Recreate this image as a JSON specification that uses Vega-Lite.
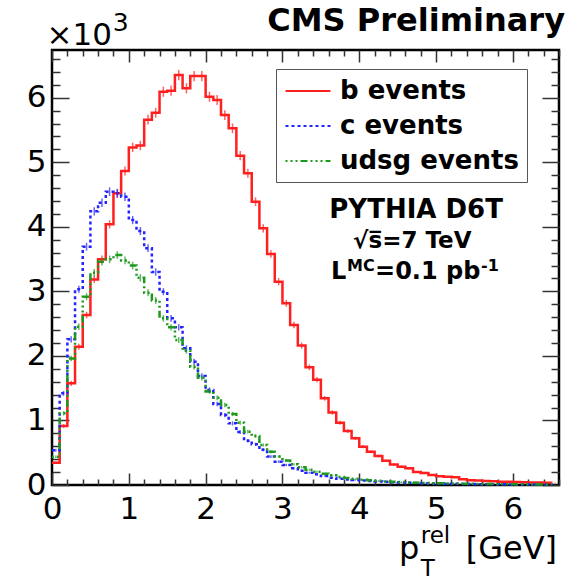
{
  "$schema": "https://vega.github.io/schema/vega-lite/v6.json",
  "width": 507,
  "height": 435,
  "autosize": {"type": "none"},
  "padding": {"left": 52, "top": 50, "right": 15, "bottom": 96},
  "background": "white",
  "config": {"view": {"stroke": "black", "strokeWidth": 2.5}, "font": "DejaVu Sans"},
  "datasets": {
    "hist": [
      {"x":0,"f":"b events","n":345},{"x":0.1,"f":"b events","n":914},{"x":0.2,"f":"b events","n":1575},{"x":0.3,"f":"b events","n":2143},{"x":0.4,"f":"b events","n":2634},{"x":0.5,"f":"b events","n":3186},{"x":0.6,"f":"b events","n":3496},{"x":0.7,"f":"b events","n":4039},{"x":0.8,"f":"b events","n":4519},{"x":0.9,"f":"b events","n":4864},
      {"x":1,"f":"b events","n":5231},{"x":1.1,"f":"b events","n":5260},{"x":1.2,"f":"b events","n":5660},{"x":1.3,"f":"b events","n":5768},{"x":1.4,"f":"b events","n":6093},{"x":1.5,"f":"b events","n":6110},{"x":1.6,"f":"b events","n":6352},{"x":1.7,"f":"b events","n":6146},{"x":1.8,"f":"b events","n":6336},{"x":1.9,"f":"b events","n":6336},
      {"x":2,"f":"b events","n":6016},{"x":2.1,"f":"b events","n":5964},{"x":2.2,"f":"b events","n":5732},{"x":2.3,"f":"b events","n":5526},{"x":2.4,"f":"b events","n":5102},{"x":2.5,"f":"b events","n":4829},{"x":2.6,"f":"b events","n":4390},{"x":2.7,"f":"b events","n":3977},{"x":2.8,"f":"b events","n":3579},{"x":2.9,"f":"b events","n":3150},
      {"x":3,"f":"b events","n":2815},{"x":3.1,"f":"b events","n":2479},{"x":3.2,"f":"b events","n":2160},{"x":3.3,"f":"b events","n":1823},{"x":3.4,"f":"b events","n":1632},{"x":3.5,"f":"b events","n":1343},{"x":3.6,"f":"b events","n":1125},{"x":3.7,"f":"b events","n":965},{"x":3.8,"f":"b events","n":835},{"x":3.9,"f":"b events","n":723},
      {"x":4,"f":"b events","n":594},{"x":4.1,"f":"b events","n":516},{"x":4.2,"f":"b events","n":450},{"x":4.3,"f":"b events","n":375},{"x":4.4,"f":"b events","n":318},{"x":4.5,"f":"b events","n":284},{"x":4.6,"f":"b events","n":258},{"x":4.7,"f":"b events","n":200},{"x":4.8,"f":"b events","n":185},{"x":4.9,"f":"b events","n":155},
      {"x":5,"f":"b events","n":135},{"x":5.1,"f":"b events","n":128},{"x":5.2,"f":"b events","n":122},{"x":5.3,"f":"b events","n":90},{"x":5.4,"f":"b events","n":75},{"x":5.5,"f":"b events","n":70},{"x":5.6,"f":"b events","n":62},{"x":5.7,"f":"b events","n":58},{"x":5.8,"f":"b events","n":52},{"x":5.9,"f":"b events","n":50},
      {"x":6,"f":"b events","n":46},{"x":6.1,"f":"b events","n":44},{"x":6.2,"f":"b events","n":40},{"x":6.3,"f":"b events","n":38},{"x":6.4,"f":"b events","n":36},{"x":6.5,"f":"b events","n":34},

      {"x":0,"f":"c events","n":540},{"x":0.1,"f":"c events","n":1420},{"x":0.2,"f":"c events","n":2257},{"x":0.3,"f":"c events","n":3032},{"x":0.4,"f":"c events","n":3692},{"x":0.5,"f":"c events","n":4240},{"x":0.6,"f":"c events","n":4373},{"x":0.7,"f":"c events","n":4544},{"x":0.8,"f":"c events","n":4519},{"x":0.9,"f":"c events","n":4466},
      {"x":1,"f":"c events","n":4105},{"x":1.1,"f":"c events","n":3935},{"x":1.2,"f":"c events","n":3670},{"x":1.3,"f":"c events","n":3300},{"x":1.4,"f":"c events","n":2995},{"x":1.5,"f":"c events","n":2582},{"x":1.6,"f":"c events","n":2443},{"x":1.7,"f":"c events","n":2118},{"x":1.8,"f":"c events","n":1911},{"x":1.9,"f":"c events","n":1689},
      {"x":2,"f":"c events","n":1472},{"x":2.1,"f":"c events","n":1255},{"x":2.2,"f":"c events","n":1084},{"x":2.3,"f":"c events","n":955},{"x":2.4,"f":"c events","n":820},{"x":2.5,"f":"c events","n":686},{"x":2.6,"f":"c events","n":630},{"x":2.7,"f":"c events","n":545},{"x":2.8,"f":"c events","n":440},{"x":2.9,"f":"c events","n":361},
      {"x":3,"f":"c events","n":310},{"x":3.1,"f":"c events","n":258},{"x":3.2,"f":"c events","n":222},{"x":3.3,"f":"c events","n":191},{"x":3.4,"f":"c events","n":165},{"x":3.5,"f":"c events","n":139},{"x":3.6,"f":"c events","n":114},{"x":3.7,"f":"c events","n":98},{"x":3.8,"f":"c events","n":86},{"x":3.9,"f":"c events","n":77},
      {"x":4,"f":"c events","n":70},{"x":4.1,"f":"c events","n":62},{"x":4.2,"f":"c events","n":55},{"x":4.3,"f":"c events","n":49},{"x":4.4,"f":"c events","n":44},{"x":4.5,"f":"c events","n":40},{"x":4.6,"f":"c events","n":35},{"x":4.7,"f":"c events","n":31},{"x":4.8,"f":"c events","n":28},{"x":4.9,"f":"c events","n":25},
      {"x":5,"f":"c events","n":22},{"x":5.1,"f":"c events","n":20},{"x":5.2,"f":"c events","n":18},{"x":5.3,"f":"c events","n":16},{"x":5.4,"f":"c events","n":15},{"x":5.5,"f":"c events","n":13},{"x":5.6,"f":"c events","n":12},{"x":5.7,"f":"c events","n":11},{"x":5.8,"f":"c events","n":10},{"x":5.9,"f":"c events","n":9},
      {"x":6,"f":"c events","n":8},{"x":6.1,"f":"c events","n":8},{"x":6.2,"f":"c events","n":7},{"x":6.3,"f":"c events","n":6},{"x":6.4,"f":"c events","n":6},{"x":6.5,"f":"c events","n":5},

      {"x":0,"f":"udsg events","n":438},{"x":0.1,"f":"udsg events","n":1111},{"x":0.2,"f":"udsg events","n":1960},{"x":0.3,"f":"udsg events","n":2453},{"x":0.4,"f":"udsg events","n":2917},{"x":0.5,"f":"udsg events","n":3289},{"x":0.6,"f":"udsg events","n":3460},{"x":0.7,"f":"udsg events","n":3496},{"x":0.8,"f":"udsg events","n":3563},{"x":0.9,"f":"udsg events","n":3480},
      {"x":1,"f":"udsg events","n":3400},{"x":1.1,"f":"udsg events","n":3210},{"x":1.2,"f":"udsg events","n":2980},{"x":1.3,"f":"udsg events","n":2860},{"x":1.4,"f":"udsg events","n":2582},{"x":1.5,"f":"udsg events","n":2443},{"x":1.6,"f":"udsg events","n":2246},{"x":1.7,"f":"udsg events","n":2080},{"x":1.8,"f":"udsg events","n":1833},{"x":1.9,"f":"udsg events","n":1660},
      {"x":2,"f":"udsg events","n":1450},{"x":2.1,"f":"udsg events","n":1350},{"x":2.2,"f":"udsg events","n":1239},{"x":2.3,"f":"udsg events","n":1100},{"x":2.4,"f":"udsg events","n":965},{"x":2.5,"f":"udsg events","n":826},{"x":2.6,"f":"udsg events","n":759},{"x":2.7,"f":"udsg events","n":620},{"x":2.8,"f":"udsg events","n":516},{"x":2.9,"f":"udsg events","n":440},
      {"x":3,"f":"udsg events","n":380},{"x":3.1,"f":"udsg events","n":320},{"x":3.2,"f":"udsg events","n":275},{"x":3.3,"f":"udsg events","n":235},{"x":3.4,"f":"udsg events","n":205},{"x":3.5,"f":"udsg events","n":175},{"x":3.6,"f":"udsg events","n":150},{"x":3.7,"f":"udsg events","n":125},{"x":3.8,"f":"udsg events","n":110},{"x":3.9,"f":"udsg events","n":95},
      {"x":4,"f":"udsg events","n":82},{"x":4.1,"f":"udsg events","n":72},{"x":4.2,"f":"udsg events","n":64},{"x":4.3,"f":"udsg events","n":56},{"x":4.4,"f":"udsg events","n":50},{"x":4.5,"f":"udsg events","n":45},{"x":4.6,"f":"udsg events","n":40},{"x":4.7,"f":"udsg events","n":36},{"x":4.8,"f":"udsg events","n":32},{"x":4.9,"f":"udsg events","n":29},
      {"x":5,"f":"udsg events","n":26},{"x":5.1,"f":"udsg events","n":24},{"x":5.2,"f":"udsg events","n":22},{"x":5.3,"f":"udsg events","n":20},{"x":5.4,"f":"udsg events","n":18},{"x":5.5,"f":"udsg events","n":16},{"x":5.6,"f":"udsg events","n":15},{"x":5.7,"f":"udsg events","n":14},{"x":5.8,"f":"udsg events","n":12},{"x":5.9,"f":"udsg events","n":11},
      {"x":6,"f":"udsg events","n":10},{"x":6.1,"f":"udsg events","n":10},{"x":6.2,"f":"udsg events","n":9},{"x":6.3,"f":"udsg events","n":8},{"x":6.4,"f":"udsg events","n":8},{"x":6.5,"f":"udsg events","n":7}
    ]
  },
  "layer": [
    {
      "data": {"name": "hist"},
      "mark": {"type": "line", "interpolate": "step-after", "strokeWidth": 2.5},
      "encoding": {
        "x": {
          "field": "x", "type": "quantitative",
          "scale": {"domain": [0, 6.6], "nice": false, "zero": false},
          "axis": {
            "orient": "bottom", "title": null, "domain": false, "grid": false,
            "values": [0,0.2,0.4,0.6,0.8,1,1.2,1.4,1.6,1.8,2,2.2,2.4,2.6,2.8,3,3.2,3.4,3.6,3.8,4,4.2,4.4,4.6,4.8,5,5.2,5.4,5.6,5.8,6,6.2,6.4,6.6],
            "labelExpr": "datum.value % 1 === 0 ? format(datum.value, 'd') : ''",
            "labelFont": "DejaVu Sans", "labelFontSize": 31, "labelColor": "black",
            "labelFlush": false, "labelOverlap": false, "labelBaseline": "top",
            "labelPadding": 21,
            "tickColor": "#333", "tickWidth": 1.5,
            "tickSize": {"condition": {"test": "datum.value % 1 === 0", "value": -12}, "value": -6}
          }
        },
        "y": {
          "field": "n", "type": "quantitative",
          "scale": {"domain": [0, 6740], "nice": false},
          "axis": {
            "orient": "left", "title": null, "domain": false, "grid": false,
            "values": [0,200,400,600,800,1000,1200,1400,1600,1800,2000,2200,2400,2600,2800,3000,3200,3400,3600,3800,4000,4200,4400,4600,4800,5000,5200,5400,5600,5800,6000,6200,6400,6600],
            "labelExpr": "datum.value % 1000 === 0 ? format(datum.value / 1000, 'd') : ''",
            "labelFont": "DejaVu Sans", "labelFontSize": 31, "labelColor": "black",
            "labelFlush": false, "labelOverlap": false,
            "labelPadding": 23,
            "tickColor": "#333", "tickWidth": 1.5,
            "tickSize": {"condition": {"test": "datum.value % 1000 === 0", "value": -17}, "value": -8}
          }
        },
        "color": {
          "field": "f", "type": "nominal",
          "scale": {"domain": ["b events", "c events", "udsg events"], "range": ["#ff1f1f", "#2323ff", "#1d9a1d"]},
          "legend": {
            "title": null, "orient": "none", "legendX": 224, "legendY": 19,
            "fillColor": "white", "strokeColor": "#555", "padding": 8,
            "labelFont": "DejaVu Sans", "labelFontWeight": "bold", "labelFontSize": 26, "labelColor": "black",
            "symbolType": "M-1.73,0H1.73", "symbolSize": 676, "symbolStrokeWidth": 2,
            "rowPadding": 8, "symbolOffset": 10, "labelOffset": 18, "labelLimit": 400
          }
        },
        "strokeDash": {
          "field": "f", "type": "nominal",
          "scale": {"domain": ["b events", "c events", "udsg events"], "range": [[1, 0], [3, 3], [2, 3, 2, 3, 2, 3, 7, 3]]},
          "legend": {
            "title": null, "orient": "none", "legendX": 224, "legendY": 19,
            "fillColor": "white", "strokeColor": "#555", "padding": 8,
            "labelFont": "DejaVu Sans", "labelFontWeight": "bold", "labelFontSize": 26, "labelColor": "black",
            "symbolType": "M-1.73,0H1.73", "symbolSize": 676, "symbolStrokeWidth": 2,
            "rowPadding": 8, "symbolOffset": 10, "labelOffset": 18, "labelLimit": 400
          }
        }
      }
    },
    {
      "data": {"name": "hist"},
      "mark": {"type": "tick", "orient": "vertical", "thickness": 1.5, "xOffset": 3.84},
      "encoding": {
        "x": {
          "field": "x", "type": "quantitative",
          "scale": {"domain": [0, 6.6], "nice": false, "zero": false},
          "axis": {
            "orient": "top", "title": null, "domain": false, "grid": false, "labels": false,
            "values": [0,0.2,0.4,0.6,0.8,1,1.2,1.4,1.6,1.8,2,2.2,2.4,2.6,2.8,3,3.2,3.4,3.6,3.8,4,4.2,4.4,4.6,4.8,5,5.2,5.4,5.6,5.8,6,6.2,6.4,6.6],
            "tickColor": "#333", "tickWidth": 1.5,
            "tickSize": {"condition": {"test": "datum.value % 1 === 0", "value": -12}, "value": -6}
          }
        },
        "y": {
          "field": "n", "type": "quantitative",
          "scale": {"domain": [0, 6740], "nice": false},
          "axis": {
            "orient": "right", "title": null, "domain": false, "grid": false, "labels": false,
            "values": [0,200,400,600,800,1000,1200,1400,1600,1800,2000,2200,2400,2600,2800,3000,3200,3400,3600,3800,4000,4200,4400,4600,4800,5000,5200,5400,5600,5800,6000,6200,6400,6600],
            "tickColor": "#333", "tickWidth": 1.5,
            "tickSize": {"condition": {"test": "datum.value % 1000 === 0", "value": -17}, "value": -8}
          }
        },
        "color": {"field": "f", "type": "nominal", "scale": {"domain": ["b events", "c events", "udsg events"], "range": ["#ff1f1f", "#2323ff", "#1d9a1d"]}, "legend": null},
        "size": {"field": "n", "type": "quantitative", "scale": {"type": "sqrt", "domain": [0, 6400], "range": [0, 10.33]}, "legend": null}
      }
    },
    {
      "data": {"values": [{}]},
      "mark": {"type": "text", "text": "CMS Preliminary", "font": "DejaVu Sans", "fontWeight": "bold", "fontSize": 32, "align": "right", "baseline": "alphabetic", "color": "black"},
      "encoding": {
        "x": {"datum": 6.678, "type": "quantitative", "scale": {"domain": [0, 6.6], "nice": false, "zero": false}, "axis": null},
        "y": {"datum": 7040, "type": "quantitative", "scale": {"domain": [0, 6740], "nice": false}, "axis": null}
      }
    },
    {
      "data": {"values": [{}]},
      "mark": {"type": "text", "text": "×10", "font": "DejaVu Sans", "fontSize": 31, "align": "left", "baseline": "alphabetic", "color": "black"},
      "encoding": {
        "x": {"datum": -0.07, "type": "quantitative", "scale": {"domain": [0, 6.6], "nice": false, "zero": false}, "axis": null},
        "y": {"datum": 6817, "type": "quantitative", "scale": {"domain": [0, 6740], "nice": false}, "axis": null}
      }
    },
    {
      "data": {"values": [{}]},
      "mark": {"type": "text", "text": "3", "font": "DejaVu Sans", "fontSize": 25, "align": "left", "baseline": "alphabetic", "color": "black"},
      "encoding": {
        "x": {"datum": 0.79, "type": "quantitative", "scale": {"domain": [0, 6.6], "nice": false, "zero": false}, "axis": null},
        "y": {"datum": 7034, "type": "quantitative", "scale": {"domain": [0, 6740], "nice": false}, "axis": null}
      }
    },
    {
      "data": {"values": [{}]},
      "mark": {"type": "text", "text": "PYTHIA D6T", "font": "DejaVu Sans", "fontWeight": "bold", "fontSize": 26, "align": "center", "baseline": "middle", "color": "black"},
      "encoding": {
        "x": {"datum": 4.74, "type": "quantitative", "scale": {"domain": [0, 6.6], "nice": false, "zero": false}, "axis": null},
        "y": {"datum": 4261, "type": "quantitative", "scale": {"domain": [0, 6740], "nice": false}, "axis": null}
      }
    },
    {
      "data": {"values": [{}]},
      "mark": {"type": "text", "text": "√s̅=7 TeV", "font": "DejaVu Sans", "fontWeight": "bold", "fontSize": 23, "align": "center", "baseline": "middle", "color": "black"},
      "encoding": {
        "x": {"datum": 4.69, "type": "quantitative", "scale": {"domain": [0, 6.6], "nice": false, "zero": false}, "axis": null},
        "y": {"datum": 3780, "type": "quantitative", "scale": {"domain": [0, 6740], "nice": false}, "axis": null}
      }
    },
    {
      "data": {"values": [{}]},
      "mark": {"type": "text", "text": "L", "font": "DejaVu Sans", "fontWeight": "bold", "fontSize": 24, "align": "left", "baseline": "alphabetic", "color": "black"},
      "encoding": {
        "x": {"datum": 3.632, "type": "quantitative", "scale": {"domain": [0, 6.6], "nice": false, "zero": false}, "axis": null},
        "y": {"datum": 3192, "type": "quantitative", "scale": {"domain": [0, 6740], "nice": false}, "axis": null}
      }
    },
    {
      "data": {"values": [{}]},
      "mark": {"type": "text", "text": "MC", "font": "DejaVu Sans", "fontWeight": "bold", "fontSize": 16, "align": "left", "baseline": "alphabetic", "color": "black"},
      "encoding": {
        "x": {"datum": 3.84, "type": "quantitative", "scale": {"domain": [0, 6.6], "nice": false, "zero": false}, "axis": null},
        "y": {"datum": 3316, "type": "quantitative", "scale": {"domain": [0, 6740], "nice": false}, "axis": null}
      }
    },
    {
      "data": {"values": [{}]},
      "mark": {"type": "text", "text": "=0.1 pb", "font": "DejaVu Sans", "fontWeight": "bold", "fontSize": 24, "align": "left", "baseline": "alphabetic", "color": "black"},
      "encoding": {
        "x": {"datum": 4.205, "type": "quantitative", "scale": {"domain": [0, 6.6], "nice": false, "zero": false}, "axis": null},
        "y": {"datum": 3192, "type": "quantitative", "scale": {"domain": [0, 6740], "nice": false}, "axis": null}
      }
    },
    {
      "data": {"values": [{}]},
      "mark": {"type": "text", "text": "-1", "font": "DejaVu Sans", "fontWeight": "bold", "fontSize": 16, "align": "left", "baseline": "alphabetic", "color": "black"},
      "encoding": {
        "x": {"datum": 5.585, "type": "quantitative", "scale": {"domain": [0, 6.6], "nice": false, "zero": false}, "axis": null},
        "y": {"datum": 3316, "type": "quantitative", "scale": {"domain": [0, 6740], "nice": false}, "axis": null}
      }
    },
    {
      "data": {"values": [{}]},
      "mark": {"type": "text", "text": "[GeV]", "font": "DejaVu Sans", "fontSize": 32, "align": "right", "baseline": "alphabetic", "color": "black"},
      "encoding": {
        "x": {"datum": 6.575, "type": "quantitative", "scale": {"domain": [0, 6.6], "nice": false, "zero": false}, "axis": null},
        "y": {"datum": -1147, "type": "quantitative", "scale": {"domain": [0, 6740], "nice": false}, "axis": null}
      }
    },
    {
      "data": {"values": [{}]},
      "mark": {"type": "text", "text": "p", "font": "DejaVu Sans", "fontSize": 32, "align": "right", "baseline": "alphabetic", "color": "black"},
      "encoding": {
        "x": {"datum": 4.78, "type": "quantitative", "scale": {"domain": [0, 6.6], "nice": false, "zero": false}, "axis": null},
        "y": {"datum": -1147, "type": "quantitative", "scale": {"domain": [0, 6740], "nice": false}, "axis": null}
      }
    },
    {
      "data": {"values": [{}]},
      "mark": {"type": "text", "text": "rel", "font": "DejaVu Sans", "fontSize": 23, "align": "left", "baseline": "alphabetic", "color": "black"},
      "encoding": {
        "x": {"datum": 4.8, "type": "quantitative", "scale": {"domain": [0, 6.6], "nice": false, "zero": false}, "axis": null},
        "y": {"datum": -899, "type": "quantitative", "scale": {"domain": [0, 6740], "nice": false}, "axis": null}
      }
    },
    {
      "data": {"values": [{}]},
      "mark": {"type": "text", "text": "T", "font": "DejaVu Sans", "fontSize": 23, "align": "left", "baseline": "alphabetic", "color": "black"},
      "encoding": {
        "x": {"datum": 4.8, "type": "quantitative", "scale": {"domain": [0, 6.6], "nice": false, "zero": false}, "axis": null},
        "y": {"datum": -1410, "type": "quantitative", "scale": {"domain": [0, 6740], "nice": false}, "axis": null}
      }
    }
  ],
  "resolve": {"axis": {"x": "independent", "y": "independent"}}
}
